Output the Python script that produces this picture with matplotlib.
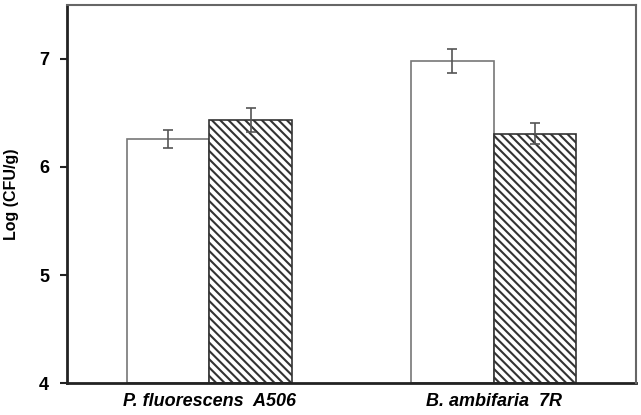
import matplotlib
matplotlib.use("Agg")
import matplotlib.pyplot as plt
import numpy as np

plt.rcParams['font.family'] = ['Liberation Sans', 'DejaVu Sans']
plt.rcParams['hatch.linewidth'] = 1.5

categories = ["P. fluorescens  A506", "B. ambifaria  7R"]
white_vals = [6.26, 6.98]
white_err = [0.08, 0.11]
hatch_vals = [6.435, 6.31]
hatch_err = [0.11, 0.10]
yticks = [4, 5, 6, 7]

fig = plt.figure(figsize=(6.41, 4.15), dpi=100)
ax = fig.add_axes([67/641, 1-383/415, (636-67)/641, (383-5)/415])

x = np.arange(len(categories))
w = 0.29
ax.bar(x - w/2, np.array(white_vals) - 4, w, bottom=4, color='white', edgecolor='#777777', linewidth=1.2, zorder=2)
ax.bar(x + w/2, np.array(hatch_vals) - 4, w, bottom=4, color='white', edgecolor='#333333', hatch='\\\\\\\\', linewidth=1.2, zorder=2)
ax.errorbar(x - w/2, white_vals, yerr=white_err, fmt='none', ecolor='#555555', elinewidth=1.2, capsize=3.5, capthick=1.2, zorder=3)
ax.errorbar(x + w/2, hatch_vals, yerr=hatch_err, fmt='none', ecolor='#555555', elinewidth=1.2, capsize=3.5, capthick=1.2, zorder=3)

ax.set_xlim(-0.5, 1.5)
ax.set_ylim(4, 7.5)
ax.set_yticks(yticks)
ax.set_yticklabels([str(t) for t in yticks], fontsize=13, fontweight='bold')
ax.set_xticks(x)
ax.set_xticklabels(categories, fontsize=13, fontweight='bold', fontstyle='italic')
ax.tick_params(axis='x', length=0, pad=7)
ax.tick_params(axis='y', length=5, width=1.5, direction='out', pad=8, color='#222222')
ax.set_ylabel("Log (CFU/g)", fontsize=11.5, fontweight='bold', labelpad=14)

for s in ['left', 'bottom']:
    ax.spines[s].set_linewidth(2)
    ax.spines[s].set_color('#222222')
for s in ['top', 'right']:
    ax.spines[s].set_linewidth(1.5)
    ax.spines[s].set_color('#666666')
    ax.spines[s].set_zorder(4)

fig.savefig("out.png", dpi=100)
